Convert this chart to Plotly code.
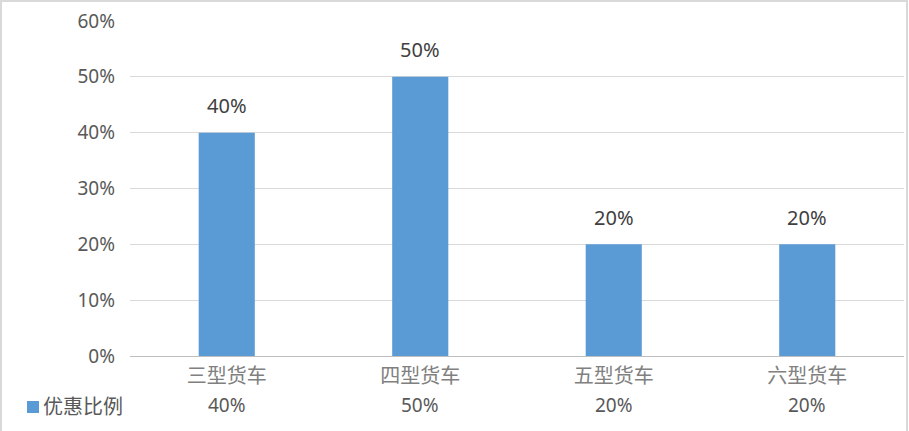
import plotly.graph_objects as go

categories = ["三型货车", "四型货车", "五型货车", "六型货车"]
values = [0.40, 0.50, 0.20, 0.20]
series_name = "优惠比例"
y_ticks = [0, 0.1, 0.2, 0.3, 0.4, 0.5, 0.6]

W, H = 909, 431
L, R, T, B = 130, 5, 21, 75
PW, PH = W - L - R, H - T - B

def px_x(p):
    return (p - L) / PW

def px_y(p):
    return (H - B - p) / PH

BAR = "#5B9BD5"
NUM_FONT = "Noto Sans, Noto Sans CJK SC, sans-serif"
CJK_FONT = "Noto Sans CJK SC, Noto Sans, sans-serif"

fig = go.Figure()
fig.add_trace(go.Bar(
    x=categories, y=values, name=series_name,
    marker=dict(color=BAR, line=dict(width=0)),
    showlegend=False,
))

annotations = []
for c, v in zip(categories, values):
    annotations.append(dict(
        x=c, y=v, xref="x", yref="y", text=f"{v:.0%}", showarrow=False,
        yanchor="middle", yshift=27,
        font=dict(family=NUM_FONT, size=20, color="#404040"),
    ))
    annotations.append(dict(
        x=c, y=px_y(405), xref="x", yref="paper", text=f"{v:.0%}", showarrow=False,
        yanchor="middle",
        font=dict(family=NUM_FONT, size=19, color="#595959"),
    ))
annotations.append(dict(
    x=px_x(41), y=px_y(405), xref="paper", yref="paper", text=series_name,
    showarrow=False, xanchor="left", yanchor="middle",
    font=dict(family=CJK_FONT, size=20, color="#595959"),
))

shapes = [
    dict(type="rect", xref="paper", yref="paper",
         x0=px_x(27), x1=px_x(39), y0=px_y(413), y1=px_y(401),
         fillcolor=BAR, line=dict(width=0)),
    dict(type="rect", xref="paper", yref="paper",
         x0=px_x(1), x1=px_x(907), y0=px_y(440), y1=px_y(1),
         fillcolor="rgba(0,0,0,0)", line=dict(color="#d9d9d9", width=2)),
]

fig.update_layout(
    width=W, height=H,
    margin=dict(l=L, r=R, t=T, b=B),
    paper_bgcolor="white", plot_bgcolor="white",
    bargap=0.71,
    annotations=annotations, shapes=shapes,
    xaxis=dict(
        type="category", showgrid=False, showline=True, linecolor="#bfbfbf", linewidth=1,
        ticks="", tickfont=dict(family=CJK_FONT, size=20, color="#808080"),
        ticklabelstandoff=2, fixedrange=True,
    ),
    yaxis=dict(
        range=[0, 0.6], tickvals=y_ticks, tickformat=".0%",
        showgrid=True, gridcolor="#d9d9d9", gridwidth=1, zeroline=False,
        showline=False, ticks="", ticklabelstandoff=14,
        tickfont=dict(family=NUM_FONT, size=19, color="#595959"),
        fixedrange=True,
    ),
)

fig.write_html(
    "out.html",
    config={"displayModeBar": False},
    post_script="document.body.style.margin='0';document.body.style.overflow='hidden';",
)
